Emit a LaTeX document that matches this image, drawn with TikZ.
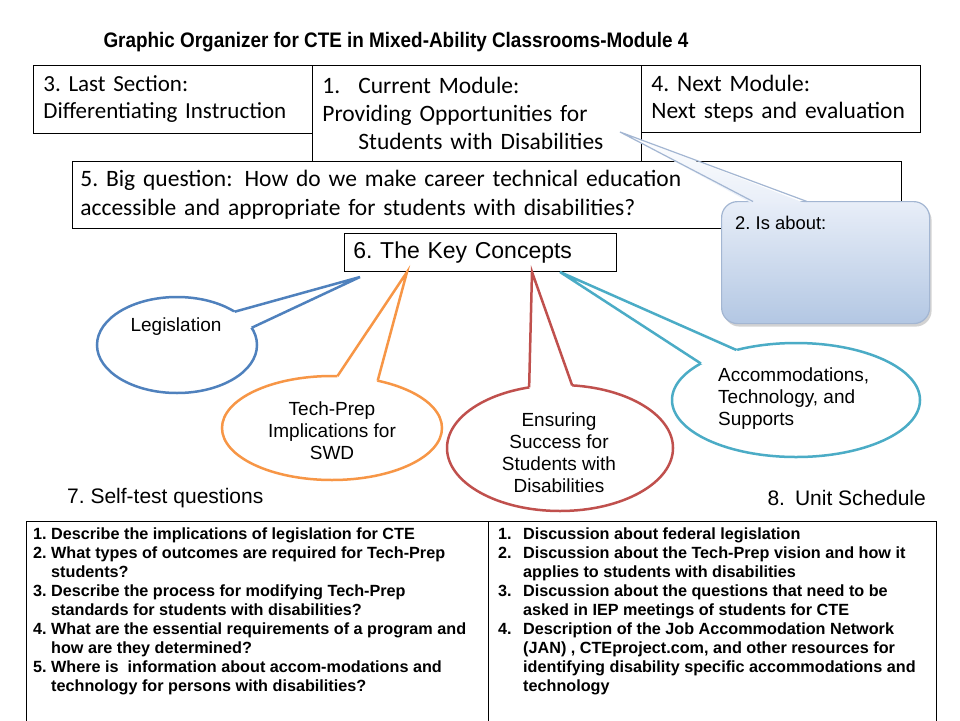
\documentclass[tikz,border=0pt]{standalone}
\usepackage{fontspec}
\setmainfont{Liberation Sans}
\newfontfamily\calibfont{Carlito}
\newfontfamily\titlefont[FakeStretch=0.9]{Liberation Sans}
\usetikzlibrary{shapes.geometric,shadows}
\frenchspacing

\definecolor{legblue}{HTML}{4F81BD}
\definecolor{techorange}{HTML}{F79646}
\definecolor{succred}{HTML}{C0504D}
\definecolor{accteal}{HTML}{4BACC6}
\definecolor{calltop}{HTML}{E8EEF8}
\definecolor{callbot}{HTML}{B3C7E3}
\definecolor{callline}{HTML}{A3B6D2}

\tikzset{
    topbox/.style={draw, line width=0.8pt, anchor=north west, inner xsep=10pt,
        inner ysep=0pt, align=left, font=\calibfont\fontsize{23.5}{28}\selectfont},
    bubble/.style={ellipse, draw, line width=2.5pt, fill=white, outer sep=0pt, inner sep=0pt},
    bubtext/.style={align=center, font=\fontsize{19}{22}\selectfont},
    listbox/.style={draw, line width=0.8pt, anchor=north west},
    listtext/.style={anchor=north west, inner sep=0pt, align=left,
        font=\bfseries\fontsize{16.2}{19}\selectfont},
    header/.style={font=\fontsize{21}{24}\selectfont, inner sep=0pt}
}

\begin{document}
\begin{tikzpicture}[x=1pt,y=-1pt]
\useasboundingbox (0,0) rectangle (960,720);
\clip (0,0) rectangle (960,720);
\fill[white] (0,0) rectangle (960,720);

% title
\node[font=\titlefont\bfseries\fontsize{21}{24}\selectfont] (title) at (396,42)
    {Graphic Organizer for CTE in Mixed-Ability Classrooms-Module 4};

% module boxes
\node[topbox, text width=259pt, minimum height=68pt, font=\calibfont\fontsize{23}{27}\selectfont] (last) at (33,65)
    {3. Last Section:\\Differentiating Instruction};
\node[topbox, text width=309pt, minimum height=96pt] (current) at (312,65)
    {\makebox[36pt][l]{1.}Current Module:\\Providing Opportunities for\\\hspace*{36pt}Students with Disabilities};
\node[topbox, text width=259pt, minimum height=67pt, font=\calibfont\fontsize{23.5}{27}\selectfont] (next) at (641,65)
    {4. Next Module:\\Next steps and evaluation};
\node[topbox, text width=813pt, minimum height=67pt, inner xsep=8pt, font=\calibfont\fontsize{23.5}{29}\selectfont] (bigq) at (72,161)
    {5. Big question:\hspace{12pt}How do we make career technical education\\accessible and appropriate for students with disabilities?};

% callout
\node[draw=callline, line width=1.2pt, rounded corners=16pt, top color=calltop,
    bottom color=callbot, minimum width=208pt, minimum height=122pt, anchor=north west,
    drop shadow={opacity=0.35, shadow xshift=2pt, shadow yshift=-3pt}] (about) at (721,201) {};
\coordinate (abouttip) at (620,132);
\coordinate (aboutl) at (753,201.5);
\coordinate (aboutr) at (807,201.5);
\shade[top color=white, bottom color=calltop] (753,204) -- (abouttip) -- (807,204) -- cycle;
\draw[callline, line width=1.2pt, line join=miter] (aboutl) -- (abouttip) -- (aboutr);
\node[anchor=west, inner sep=0pt, font=\fontsize{18.4}{21}\selectfont] (abouttext) at (735,223) {2. Is about:};

% key concepts
\node[draw, line width=0.8pt, anchor=north west, minimum width=272pt, minimum height=38pt,
    inner xsep=9pt, text width=254pt, align=left, font=\fontsize{23}{26}\selectfont] (key) at (344,233)
    {6. The Key Concepts};

% bubbles
\coordinate (legtip) at (360,277);
\node[bubble, draw=legblue, minimum width=160pt, minimum height=96pt] (legis) at (177,345) {};
\fill[white] (legis.center) -- (legis.30) -- (legtip) -- (legis.13) -- cycle;
\draw[legblue, line width=2.5pt, line join=miter] (legis.30) -- (legtip) -- (legis.13);
\node[bubtext] (legistext) at (176,327) {Legislation};

\coordinate (techtip) at (407,272);
\node[bubble, draw=techorange, minimum width=220pt, minimum height=104pt] (tech) at (332,428) {};
\fill[white] (tech.center) -- (tech.84) -- (techtip) -- (tech.46) -- cycle;
\draw[techorange, line width=2.5pt, line join=miter] (tech.84) -- (techtip) -- (tech.46);
\node[bubtext] (techtext) at (332,431) {Tech-Prep\\Implications for\\SWD};

\coordinate (succtip) at (532,272);
\node[bubble, draw=succred, minimum width=226pt, minimum height=126pt] (succ) at (560,448) {};
\fill[white] (succ.center) -- (succ.117) -- (succtip) -- (succ.79) -- cycle;
\draw[succred, line width=2.5pt, line join=miter] (succ.117) -- (succtip) -- (succ.79);
\node[bubtext] (succtext) at (559,453) {Ensuring\\Success for\\Students with\\Disabilities};

\coordinate (acctip) at (560,272);
\node[bubble, draw=accteal, minimum width=248pt, minimum height=114pt] (acc) at (796,400) {};
\fill[white] (acc.center) -- (acc.159) -- (acctip) -- (acc.140) -- cycle;
\draw[accteal, line width=2.5pt, line join=miter] (acc.159) -- (acctip) -- (acc.140);
\node[bubtext, anchor=west, align=left, inner sep=0pt] (acctext) at (718,399) {Accommodations,\\Technology, and\\Supports};

% bottom lists
\node[header, anchor=west] (selftest) at (67,498) {7. Self-test questions};
\node[header, anchor=east] (schedule) at (926,498) {8.\hspace{10pt}Unit Schedule};
\node[listbox, minimum width=462pt, minimum height=220pt] (testbox) at (26,521) {};
\node[listbox, minimum width=448pt, minimum height=220pt] (schedbox) at (488,521) {};
\node[listtext] (testlist) at (33,528)
    {\makebox[18pt][l]{1.}Describe the implications of legislation for CTE\\
     \makebox[18pt][l]{2.}What types of outcomes are required for Tech-Prep\\
     \hspace*{18pt}students?\\
     \makebox[18pt][l]{3.}Describe the process for modifying Tech-Prep\\
     \hspace*{18pt}standards for students with disabilities?\\
     \makebox[18pt][l]{4.}What are the essential requirements of a program and\\
     \hspace*{18pt}how are they determined?\\
     \makebox[18pt][l]{5.}Where is\ \ information about accom-modations and\\
     \hspace*{18pt}technology for persons with disabilities?};
\node[listtext] (schedlist) at (498,528)
    {\makebox[25pt][l]{1.}Discussion about federal legislation\\
     \makebox[25pt][l]{2.}Discussion about the Tech-Prep vision and how it\\
     \hspace*{25pt}applies to students with disabilities\\
     \makebox[25pt][l]{3.}Discussion about the questions that need to be\\
     \hspace*{25pt}asked in IEP meetings of students for CTE\\
     \makebox[25pt][l]{4.}Description of the Job Accommodation Network\\
     \hspace*{25pt}(JAN) , CTEproject.com, and other resources for\\
     \hspace*{25pt}identifying disability specific accommodations and\\
     \hspace*{25pt}technology};
\end{tikzpicture}
\end{document}
